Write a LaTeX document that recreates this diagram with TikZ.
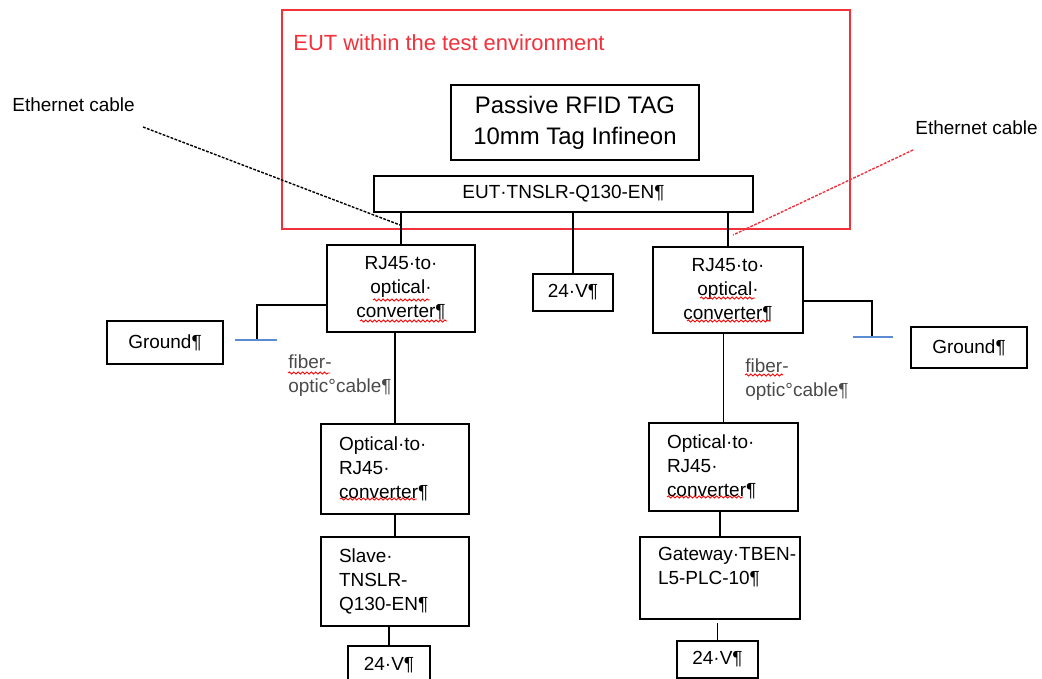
\documentclass[tikz,border=0pt]{standalone}
\usepackage{fontspec}
\setmainfont{Liberation Sans}
\usepackage{tikz}
\usetikzlibrary{calc,decorations.pathmorphing}
\definecolor{eutred}{HTML}{F2313B}
\definecolor{gndblue}{HTML}{5B8BD0}
\definecolor{note}{HTML}{4A4A4A}
\hyphenpenalty=10000
\exhyphenpenalty=10000
\tikzset{
  box/.style={draw, line width=1pt, inner sep=0pt, align=center, font=\fontsize{10.8}{13.6}\selectfont},
  lbox/.style={box, align=left, text width={#1*0.02cm}},
  sz/.style 2 args={minimum width={#1*0.02cm}, minimum height={#2*0.02cm}},
  wire/.style={line width=1pt},
  gnd/.style={draw=gndblue, line width=0.9pt},
  cable/.style={line width=0.8pt, dash pattern=on 1.6pt off 0.8pt},
  lab/.style={font=\fontsize{10.8}{13.6}\selectfont, inner sep=0pt},
  spell/.style={draw=red, line width=0.5pt, decorate, decoration={snake, amplitude=0.6pt, segment length=2.5pt}}
}
\begin{document}
\begin{tikzpicture}[x=0.02cm, y=-0.02cm]
  \useasboundingbox (0,0) rectangle (1042,679);

  % test environment
  \draw[eutred, line width=0.8pt] (282,10) rectangle (850,229);
  \node[lab, text=eutred, anchor=west, font=\fontsize{12.5}{15}\selectfont] (envlbl) at (293,43) {EUT within the test environment};

  \node[box, sz={248}{75}, font=\fontsize{13.6}{17.6}\selectfont] (tag) at (575,122.5) {Passive RFID TAG\\10mm Tag Infineon};
  \node[box, sz={379}{36}] (eut) at (563.5,194) {EUT·TNSLR-Q130-EN¶};

  % first row
  \node[box, sz={148}{87}] (rjL) at (401,288.5) {RJ45·to·\\optical·\\converter¶};
  \node[box, sz={150}{86}] (rjR) at (728,290) {RJ45·to·\\optical·\\converter¶};
  \node[box, sz={80}{37}] (vC) at (573,292.5) {24·V¶};
  \node[box, sz={116}{43}] (gndL) at (165,342.5) {Ground¶};
  \node[box, sz={116}{41}] (gndR) at (969,347.5) {Ground¶};

  % far side
  \node[lbox=112, sz={148}{90}] (optL) at (395,469) {Optical·to·\\RJ45·\\converter¶};
  \node[lbox=113, sz={149}{88}] (optR) at (723.5,467) {Optical·to·\\RJ45·\\converter¶};
  \node[lbox=112, sz={148}{89}] (slave) at (395,581.5) {Slave·\\TNSLR-\\Q130-EN¶};
  \node[lbox=124, sz={160}{82}] (gate) at (720,578) {Gateway·TBEN-\\L5-PLC-10¶\\\mbox{}};
  \node[box, sz={82}{38}] (vL) at (389,665) {24·V¶};
  \node[box, sz={81}{37}] (vR) at (717.5,659.5) {24·V¶};

  \draw[wire] (rjL.north) -- (rjL.north |- eut.south);
  \draw[wire] (vC.north) -- (vC.north |- eut.south);
  \draw[wire] (rjR.north) -- (rjR.north |- eut.south);
  \draw[wire] (optL.north) -- (optL.north |- rjL.south);
  \draw[wire] (slave.north) -- (slave.north |- optL.south);
  \draw[wire] (vL.north) -- (vL.north |- slave.south);
  \draw[wire] (optR.north) -- (optR.north |- rjR.south);
  \draw[wire] (gate.north) -- (gate.north |- optR.south);
  \draw[wire] (vR.north) -- ($(vR.north |- gate.south)+(0,3)$);

  % ground leads
  \coordinate (gL) at (257,340);
  \draw[wire] ($(rjL.west)+(0,16.5)$) -| (gL);
  \draw[gnd] ($(gL)+(-22,0)$) -- ($(gL)+(20,0)$);
  \coordinate (gR) at (872,337);
  \draw[wire] ($(rjR.east)+(0,11)$) -| (gR);
  \draw[gnd] ($(gR)+(-19,0)$) -- ($(gR)+(21,0)$);

  \node[lab, text=note, align=left, anchor=west] (fibL) at (288,376) {fiber-\\optic°cable¶};
  \node[lab, text=note, align=left, anchor=west] (fibR) at (745,380) {fiber-\\optic°cable¶};

  % cable callouts
  \node[lab, anchor=west] (ethL) at (12,105) {Ethernet cable};
  \coordinate (ethLa) at (143,127);
  \coordinate (ethLb) at (400,225);
  \draw[cable] (ethLa) -- (ethLb);
  \node[lab, anchor=west] (ethR) at (915,128) {Ethernet cable};
  \coordinate (ethRa) at (913,150);
  \coordinate (ethRb) at (733,235);
  \draw[cable, eutred] (ethRa) -- (ethRb);

  % spell-check marks
  \foreach \xa/\xb/\yy in {373/430/300, 360/447/321, 700/755/298, 687/770/321,
                           288/330/373, 745/783/375, 340/417/499, 667/743/497}
    \draw[spell] (\xa,\yy) -- (\xb,\yy);
\end{tikzpicture}
\end{document}
